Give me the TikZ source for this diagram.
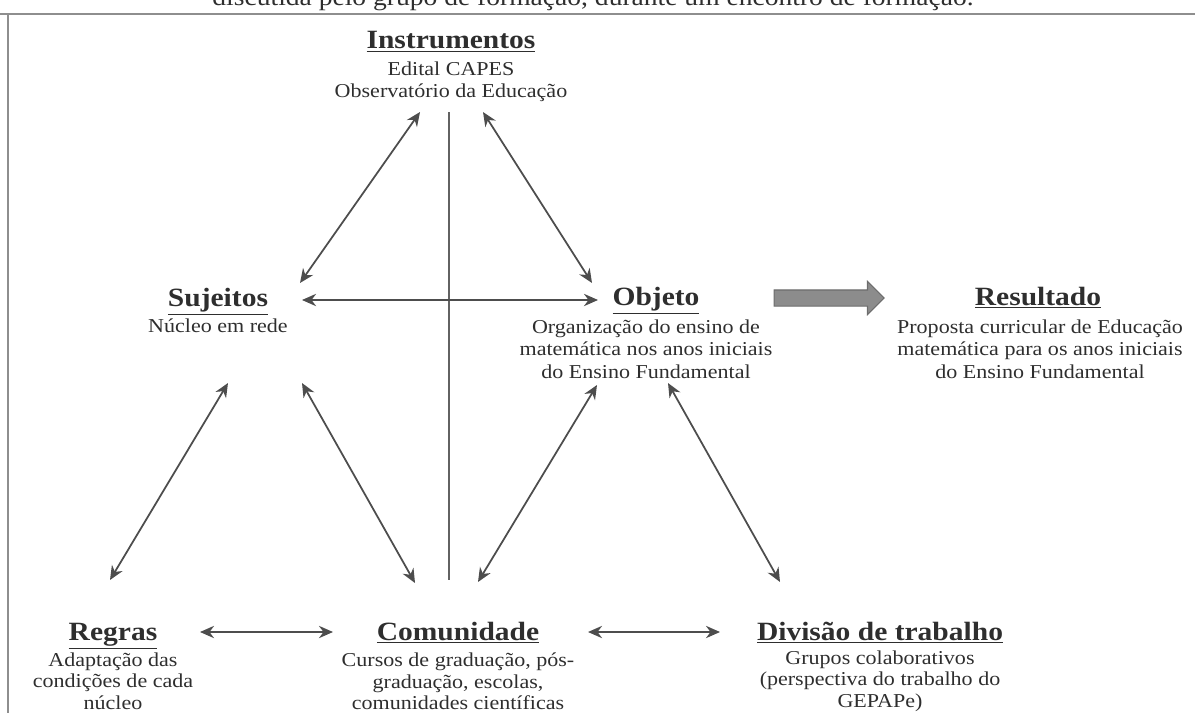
\documentclass[tikz,border=0pt]{standalone}
\usepackage{fontspec}
\setmainfont{Liberation Serif}[FakeStretch=1.12]
\usepackage{xcolor}
\usetikzlibrary{positioning,arrows.meta,shapes.arrows}
\definecolor{ink}{HTML}{2E2E2E}
\definecolor{framegray}{HTML}{8E8E8E}
\definecolor{blockgray}{HTML}{8C8C8C}

\begin{document}
\begin{tikzpicture}[
  x=0.02cm, y=-0.02cm,
  head/.style={font=\fontsize{15}{17}\selectfont\bfseries, text=ink, inner sep=0pt, anchor=base},
  body/.style={font=\fontsize{11.2}{13}\selectfont, text=ink, align=center, inner sep=0pt, anchor=north},
  lowbody/.style={body, font=\fontsize{11.2}{12.5}\selectfont},
  link/.style={draw=ink!85, line width=1pt, {Stealth[length=8pt,width=7pt]}-{Stealth[length=8pt,width=7pt]}},
  axisline/.style={draw=ink!75, line width=0.8pt},
  frameline/.style={draw=framegray, line width=1.4pt},
  bigarrow/.style={
    single arrow, fill=blockgray, draw=ink!70, line width=0.6pt,
    minimum height=2.2cm, minimum width=0.64cm, inner sep=0.15cm,
    single arrow head extend=0.17cm,
  },
]
\useasboundingbox (0,0) rectangle (1195,713);

% frame and cut caption
\draw[frameline] (0,14) -- (1195,14);
\draw[frameline] (8,14) -- (8,713);
\node[font=\fontsize{14}{16}\selectfont, text=ink, anchor=base] (cap) at (593,6)
  {discutida pelo grupo de formação, durante um encontro de formação.};

% Top
\node[head] (instr) at (451,49) {\underline{Instrumentos}};
\node[body] (instr txt) at (451,61) {Edital CAPES\\Observatório da Educação};

% Middle row
\node[head] (suj) at (218,306) {\underline{Sujeitos}};
\node[body] (suj txt) at (218,318) {Núcleo em rede};

\node[head] (obj) at (656,305) {\underline{Objeto}};
\node[body] (obj txt) at (646,319) {Organização do ensino de\\matemática nos anos iniciais\\do Ensino Fundamental};

\node[bigarrow] (res arrow) at (825,298) {};

\node[head] (res) at (1038,305) {\underline{Resultado}};
\node[body] (res txt) at (1040,319) {Proposta curricular de Educação\\matemática para os anos iniciais\\do Ensino Fundamental};

% Bottom row
\node[head] (reg) at (113,640) {\underline{Regras}};
\node[lowbody] (reg txt) at (113,652) {Adaptação das\\condições de cada\\núcleo};

\node[head] (com) at (458,640) {\underline{Comunidade}};
\node[lowbody] (com txt) at (458,652) {Cursos de graduação, pós-\\graduação, escolas,\\comunidades científicas};

\node[head] (div) at (880,640) {\underline{Divisão de trabalho}};
\node[lowbody] (div txt) at (880,650) {Grupos colaborativos\\(perspectiva do trabalho do\\GEPAPe)};

% arrow ends
\coordinate (instr sw) at (420,112);
\coordinate (instr se) at (483,112);
\coordinate (suj ne) at (300,283);
\coordinate (suj e) at (302,300);
\coordinate (suj sw) at (228,383);
\coordinate (suj se) at (302,383);
\coordinate (obj nw) at (592,283);
\coordinate (obj w) at (598,300);
\coordinate (obj sw) at (597,385);
\coordinate (obj se) at (668,383);
\coordinate (reg ne) at (110,580);
\coordinate (reg e) at (200,632);
\coordinate (com w) at (333,632);
\coordinate (com e) at (588,632);
\coordinate (com nw) at (415,583);
\coordinate (com ne) at (478,582);
\coordinate (div w) at (720,632);
\coordinate (div nw) at (780,582);
\coordinate (axis top) at (449,112);
\coordinate (axis bot) at (449,580);

% connectors
\draw[axisline] (axis top) -- (axis bot);
\draw[link] (instr sw) -- (suj ne);
\draw[link] (instr se) -- (obj nw);
\draw[link] (suj e) -- (obj w);
\draw[link] (suj sw) -- (reg ne);
\draw[link] (suj se) -- (com nw);
\draw[link] (obj sw) -- (com ne);
\draw[link] (obj se) -- (div nw);
\draw[link] (reg e) -- (com w);
\draw[link] (com e) -- (div w);

\end{tikzpicture}
\end{document}
